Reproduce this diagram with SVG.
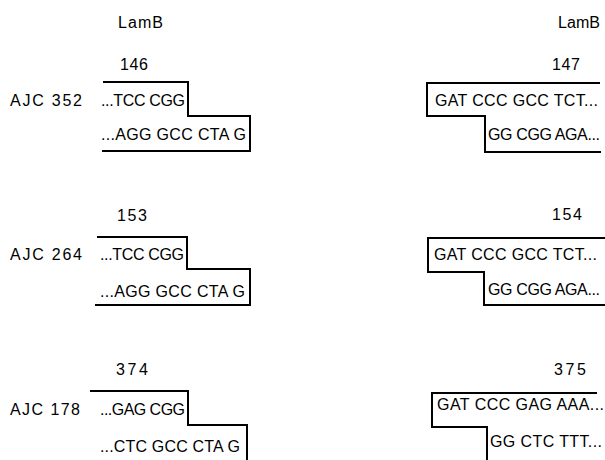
<svg xmlns="http://www.w3.org/2000/svg" width="605" height="460" viewBox="0 0 605 460">
<style>
text{font-family:"Liberation Sans",Arial,sans-serif;font-size:16px;fill:#000}
.c{fill:none;stroke:#000;stroke-width:2}
</style>
<rect width="605" height="460" fill="#fff"/>
<g id="headers">
<text x="118" y="28" textLength="45" lengthAdjust="spacing">LamB</text>
<text x="558" y="28" textLength="42" lengthAdjust="spacing">LamB</text>
</g>
<g id="row1-left">
<text x="120" y="70" textLength="28" lengthAdjust="spacing">146</text>
<text x="10" y="106" textLength="72" lengthAdjust="spacing">AJC 352</text>
<text x="101" y="106" textLength="84" lengthAdjust="spacing">...TCC CGG</text>
<text x="101" y="140" textLength="145" lengthAdjust="spacing">...AGG GCC CTA G</text>
</g>
<g id="row1-right">
<text x="552" y="70" textLength="28" lengthAdjust="spacing">147</text>
<text x="435" y="106" textLength="163" lengthAdjust="spacing">GAT CCC GCC TCT...</text>
<text x="488" y="140" textLength="112" lengthAdjust="spacing">GG CGG AGA...</text>
</g>
<g id="row2-left">
<text x="117" y="221" textLength="30" lengthAdjust="spacing">153</text>
<text x="10" y="260" textLength="72" lengthAdjust="spacing">AJC 264</text>
<text x="100" y="260" textLength="84" lengthAdjust="spacing">...TCC CGG</text>
<text x="100" y="297" textLength="145" lengthAdjust="spacing">...AGG GCC CTA G</text>
</g>
<g id="row2-right">
<text x="552" y="220" textLength="30" lengthAdjust="spacing">154</text>
<text x="434" y="260" textLength="163" lengthAdjust="spacing">GAT CCC GCC TCT...</text>
<text x="488" y="295" textLength="112" lengthAdjust="spacing">GG CGG AGA...</text>
</g>
<g id="row3-left">
<text x="116" y="375" textLength="32" lengthAdjust="spacing">374</text>
<text x="10" y="415" textLength="70" lengthAdjust="spacing">AJC 178</text>
<text x="100" y="415" textLength="85" lengthAdjust="spacing">...GAG CGG</text>
<text x="100" y="452" textLength="140" lengthAdjust="spacing">...CTC GCC CTA G</text>
</g>
<g id="row3-right">
<text x="554" y="375" textLength="32" lengthAdjust="spacing">375</text>
<text x="437" y="410" textLength="167" lengthAdjust="spacing">GAT CCC GAG AAA...</text>
<text x="490" y="447" textLength="112" lengthAdjust="spacing">GG CTC TTT...</text>
</g>
<g id="connectors">
<path class="c" d="M103,82 H188 V116 H250 V151 H102"/>
<path class="c" d="M600,83 H427 V116 H485 V152 H601"/>
<path class="c" d="M97,237 H187 V269 H250 V305 H95"/>
<path class="c" d="M605,238 H428 V272 H484 V305 H605"/>
<path class="c" d="M90,391 H188 V425 H247 V460"/>
<path class="c" d="M597,393 H432 V427 H487 V460"/>
</g>
</svg>
